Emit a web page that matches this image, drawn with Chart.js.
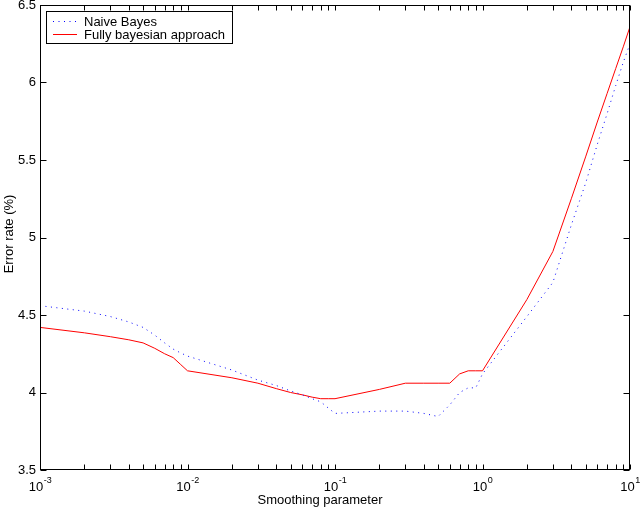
<!DOCTYPE html>
<html>
<head>
<meta charset="utf-8">
<script src="https://cdn.jsdelivr.net/npm/chart.js@4"></script>
<style>
  html, body { margin: 0; padding: 0; background: #fff; }
</style>
</head>
<body>
<canvas id="myChart" width="640" height="509"></canvas>
<script>
// smoothing parameter values (x axis, log scale)
var smoothing = [0.001, 0.002, 0.003, 0.004, 0.005, 0.006, 0.007, 0.008, 0.009,
                 0.01, 0.02, 0.03, 0.04, 0.05, 0.06, 0.07, 0.08, 0.09,
                 0.1, 0.2, 0.3, 0.4, 0.5, 0.6, 0.7, 0.8, 0.9,
                 1, 2, 3, 4, 5, 6, 7, 8, 9, 10];
var naiveBayes = [4.56, 4.525, 4.49, 4.455, 4.42, 4.37, 4.32, 4.28, 4.255,
                  4.235, 4.145, 4.08, 4.045, 4.01, 3.985, 3.96, 3.94, 3.90,
                  3.865, 3.88, 3.88, 3.865, 3.845, 3.92, 4.0, 4.03, 4.03,
                  4.12, 4.49, 4.71, 5.08, 5.35, 5.6, 5.8, 5.98, 6.13, 6.25];
var fullyBayes = [4.42, 4.385, 4.36, 4.34, 4.32, 4.285, 4.25, 4.225, 4.18,
                  4.14, 4.095, 4.06, 4.025, 4.0, 3.985, 3.97, 3.96, 3.96,
                  3.96, 4.02, 4.06, 4.06, 4.06, 4.06, 4.12, 4.14, 4.14,
                  4.14, 4.6, 4.91, 5.25, 5.52, 5.745, 5.93, 6.09, 6.23, 6.36];
var xExponents = ['-3', '-2', '-1', '0', '1'];
var yTicks = [3.5, 4, 4.5, 5, 5.5, 6, 6.5];

var FONT = "'Liberation Sans', Arial, Helvetica, sans-serif";

function pts(ys) {
  return smoothing.map(function (x, i) { return { x: x, y: ys[i] }; });
}

// frame, inward ticks, x labels with exponents, axis titles, boxed legend
var matlabAxes = {
  id: 'matlabAxes',
  afterDraw: function (chart) {
    var c = chart.ctx, a = chart.chartArea;
    var xs = chart.scales.x, ys = chart.scales.y;
    var L = Math.round(a.left) + 0.5, R = Math.round(a.right) - 0.5;
    var T = Math.round(a.top) + 0.5, B = Math.round(a.bottom) - 0.5;
    c.save();
    c.strokeStyle = '#000';
    c.lineWidth = 1;
    c.strokeRect(L, T, R - L, B - T);

    c.beginPath();
    for (var d = -3; d <= 1; d++) {
      for (var m = 1; m <= 9; m++) {
        var v = m * Math.pow(10, d);
        if (v > 10.0001) break;
        var px = Math.round(xs.getPixelForValue(v)) + 0.5;
        c.moveTo(px, B); c.lineTo(px, B - 5);
        c.moveTo(px, T); c.lineTo(px, T + 5);
      }
    }
    yTicks.forEach(function (v) {
      var py = Math.round(ys.getPixelForValue(v)) + 0.5;
      c.moveTo(L, py); c.lineTo(L + 6, py);
      c.moveTo(R, py); c.lineTo(R - 6, py);
    });
    c.stroke();

    // x tick labels 10^n
    c.fillStyle = '#000';
    c.textBaseline = 'alphabetic';
    xExponents.forEach(function (e) {
      var px = xs.getPixelForValue(Math.pow(10, +e));
      c.font = '13px ' + FONT;
      var w1 = c.measureText('10').width;
      c.font = '9px ' + FONT;
      var w2 = c.measureText(e).width;
      var x0 = px - (w1 + w2) / 2;
      c.font = '13px ' + FONT;
      c.textAlign = 'left';
      c.fillText('10', x0, B + 21);
      c.font = '9px ' + FONT;
      c.fillText(e, x0 + w1 + 0.5, B + 13);
    });

    // axis titles
    c.font = '13px ' + FONT;
    c.textAlign = 'center';
    c.fillText('Smoothing parameter', 320, 504);
    c.save();
    c.translate(13, 234);
    c.rotate(-Math.PI / 2);
    c.fillText('Error rate (%)', 0, 0);
    c.restore();

    // legend
    var lx = 46.5, ly = 11.5, lw = 186, lh = 32;
    c.fillStyle = '#fff';
    c.fillRect(lx, ly, lw, lh);
    c.strokeStyle = '#000';
    c.strokeRect(lx, ly, lw, lh);
    chart.data.datasets.forEach(function (ds, i) {
      var yy = ly + 9.5 + i * 13;
      c.strokeStyle = ds.borderColor;
      c.setLineDash(ds.borderDash || []);
      c.beginPath();
      c.moveTo(53, Math.round(yy) + 0.5);
      c.lineTo(77, Math.round(yy) + 0.5);
      c.stroke();
      c.setLineDash([]);
      c.fillStyle = '#000';
      c.textAlign = 'left';
      c.textBaseline = 'middle';
      c.font = '13px ' + FONT;
      c.fillText(ds.label, 84, yy + 1);
    });
    c.restore();
  }
};

var ctx = document.getElementById('myChart').getContext('2d');
var chart = new Chart(ctx, {
  type: 'line',
  data: {
    datasets: [{
      label: 'Naive Bayes',
      data: pts(naiveBayes),
      borderColor: 'rgb(0,0,255)',
      borderWidth: 1,
      borderDash: [1, 4.5],
      pointRadius: 0,
      fill: false,
      tension: 0
    }, {
      label: 'Fully bayesian approach',
      data: pts(fullyBayes),
      borderColor: 'rgb(255,0,0)',
      borderWidth: 1,
      pointRadius: 0,
      fill: false,
      tension: 0
    }]
  },
  options: {
    responsive: false,
    animation: false,
    layout: { padding: { top: 5, right: 10, left: 0, bottom: 0 } },
    plugins: { legend: { display: false }, tooltip: { enabled: false } },
    scales: {
      x: {
        type: 'logarithmic',
        min: 0.001,
        max: 10,
        grid: { display: false },
        border: { display: false },
        ticks: { display: false },
        afterFit: function (s) { s.height = 39; s.paddingLeft = 0; s.paddingRight = 0; }
      },
      y: {
        type: 'linear',
        min: 3.5,
        max: 6.5,
        grid: { display: false, drawTicks: false },
        border: { display: false },
        ticks: {
          stepSize: 0.5,
          padding: 4,
          color: '#000',
          font: { family: FONT, size: 13 },
          callback: function (v) { return String(v); }
        },
        afterFit: function (s) { s.width = 40; s.paddingTop = 0; s.paddingBottom = 0; }
      }
    }
  },
  plugins: [matlabAxes]
});
</script>
</body>
</html>
